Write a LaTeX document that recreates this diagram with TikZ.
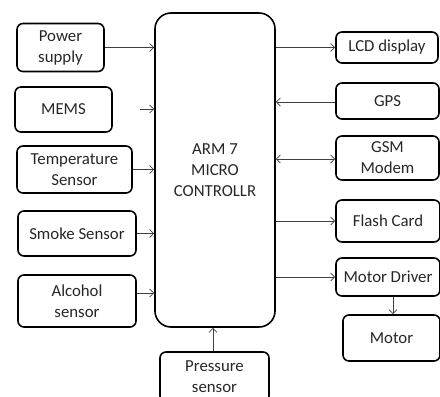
\documentclass[tikz,border=0pt]{standalone}
\usepackage{fontspec}
\setmainfont{Carlito}
\usetikzlibrary{arrows.meta}
\begin{document}
\begin{tikzpicture}[x=1pt,y=-1pt]
		\tikzstyle{every node} = [font = \fontsize{16.8}{21}\selectfont, text = black!85]
		\tikzstyle{blk} = [draw, line width = 1.6pt, rounded corners = 6pt, align = center, inner sep = 0pt]
		\tikzstyle{link} = [line width = .8pt, black!75, >={Straight Barb[length=4pt,width=8pt]}]
		\useasboundingbox (0,0) rectangle (440,397);

		% controller
		\node [blk, rounded corners = 16pt, minimum width = 120pt, minimum height = 314pt] (arm) at (215,170) {ARM 7\\MICRO\\CONTROLLR};

		% inputs on the left
		\node [blk, minimum width = 87pt, minimum height = 48pt] (pow) at (60.5,47.5) {Power\\supply};
		\node [blk, minimum width = 97pt, minimum height = 45pt] (mems) at (63.5,109.5) {MEMS};
		\node [blk, minimum width = 115pt, minimum height = 47pt] (temp) at (74.5,169.5) {Temperature\\Sensor};
		\node [blk, minimum width = 118pt, minimum height = 45pt] (smoke) at (77,233.5) {Smoke Sensor};
		\node [blk, minimum width = 118pt, minimum height = 52pt] (alc) at (77,301) {Alcohol\\sensor};
		\node [blk, minimum width = 109pt, minimum height = 50pt] (pres) at (214.5,377) {Pressure\\sensor};
		\coordinate (memsin) at (140,109);

		% outputs on the right
		\node [blk, minimum width = 102pt, minimum height = 31pt] (lcd) at (387,47.5) {LCD display};
		\node [blk, minimum width = 103pt, minimum height = 36pt] (gps) at (387.5,101) {GPS};
		\node [blk, minimum width = 103pt, minimum height = 44pt] (gsm) at (387.5,158) {GSM\\Modem};
		\node [blk, minimum width = 104pt, minimum height = 42pt] (flash) at (388,221) {Flash Card};
		\node [blk, minimum width = 104pt, minimum height = 38pt] (mdrv) at (388,277) {Motor Driver};
		\node [blk, minimum width = 97pt, minimum height = 46pt] (motor) at (391.5,338) {Motor};

		\draw [link, ->] (pow.east) -- (pow.east -| arm.west);
		\draw [link, ->] (memsin) -- (memsin -| arm.west);
		\draw [link, ->] (temp.east) -- (temp.east -| arm.west);
		\draw [link, ->] (smoke.east) -- (smoke.east -| arm.west);
		\draw [link, ->] ([yshift=8pt]alc.east) -- ([yshift=8pt]alc.east -| arm.west);
		\draw [link, ->] ([xshift=-1.5pt]pres.north) -- ([xshift=-1.5pt]pres.north |- arm.south);

		\draw [link, ->] (lcd.west -| arm.east) -- (lcd.west);
		\draw [link, <-] ([yshift=-1pt]gps.west -| arm.east) -- ([yshift=-1pt]gps.west);
		\draw [link, <->] ([yshift=-1pt]gsm.west -| arm.east) -- ([yshift=-1pt]gsm.west);
		\draw [link, ->] (flash.west -| arm.east) -- (flash.west);
		\draw [link, ->] (mdrv.west -| arm.east) -- (mdrv.west);
		\draw [link, ->] ([xshift=5pt]mdrv.south) -- ([xshift=5pt]mdrv.south |- motor.north);
	\end{tikzpicture}
\end{document}
